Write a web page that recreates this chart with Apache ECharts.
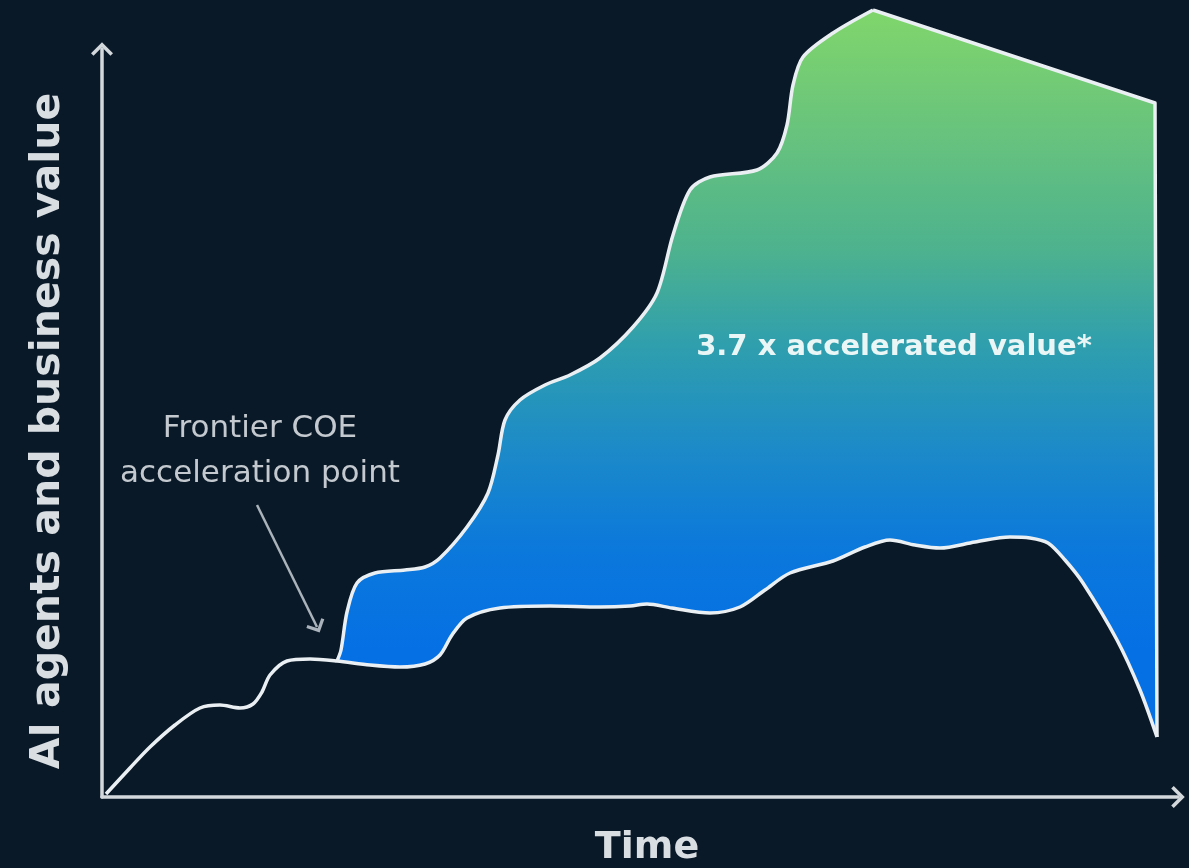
<!DOCTYPE html>
<html>
<head>
<meta charset="utf-8">
<script src="https://cdn.jsdelivr.net/npm/echarts@6/dist/echarts.min.js"></script>
<style>
html,body{margin:0;padding:0;background:#0a1927;}
#chart{width:1189px;height:868px;}
</style>
</head>
<body>
<div id="chart"></div>
<script>
// Values (time units, value units; origin at the axes' corner)
const baselineTime  = [4, 28, 48, 73, 98, 118, 138, 151, 160, 168, 185, 208, 235, 268, 298, 323, 338, 350, 365, 398, 448, 498, 528, 545, 570, 608, 638, 663, 688, 731, 763, 788, 813, 838, 873, 908, 928, 946, 963, 981, 1015, 1038, 1055];
const baselineValue = [3, 29, 50, 72, 89, 92, 89, 93, 105, 122, 136, 138, 136, 132, 130, 133, 142, 162, 179, 189, 191, 190, 191, 193, 189, 184, 190, 207, 224, 236, 250, 257, 252, 249, 255, 260, 259, 254, 237, 214, 157, 107, 60];
// accelerated curve: rising (curved) part up to the peak
const frontierTime  = [235, 239, 245, 255, 273, 303, 323, 338, 365, 386, 396, 403, 418, 443, 468, 498, 531, 555, 571, 588, 608, 655, 675, 685, 691, 701, 731, 771];
const frontierValue = [136, 147, 185, 214, 224, 227, 230, 239, 270, 304, 342, 377, 397, 412, 422, 439, 470, 504, 562, 607, 620, 627, 644, 672, 712, 740, 764, 787];
// accelerated curve: straight decline after the peak, then the closing drop
const frontierTailTime  = [771, 1053, 1055];
const frontierTailValue = [787, 694, 60];
const annotationFrom = [155, 292];
const annotationTo   = [215, 170];

const BG = '#0a1927';
const LINE = '#eaeff3';
const pair = (xs, ys) => xs.map((x, i) => [x, ys[i]]);
const chevron = 'path://M0,13 L13,0 L26,13 L23,16 L13,6 L3,16 Z';
const grad = () => new echarts.graphic.LinearGradient(0, 0, 0, 1, [
  {offset: 0, color: '#80d66b'},
  {offset: 0.114, color: '#6fc878'},
  {offset: 0.305, color: '#4db28e'},
  {offset: 0.432, color: '#2e9eaf'},
  {offset: 0.559, color: '#1c8ac8'},
  {offset: 0.686, color: '#0b78dc'},
  {offset: 0.813, color: '#0570e4'},
  {offset: 1, color: '#0570e4'}
]);
const axisLineStyle = {show: true, symbol: ['none', chevron], symbolSize: [22, 14], lineStyle: {color: '#d3d8dd', width: 3.5}};

const chart = echarts.init(document.getElementById('chart'));
chart.setOption({
  backgroundColor: BG,
  animation: false,
  grid: [
    {left: 102, right: 4, top: 10, bottom: 71},
    {left: 102, right: 11, top: 49, bottom: 71}
  ],
  xAxis: [
    {type: 'value', gridIndex: 0, min: 0, max: 1083, show: false},
    {type: 'value', gridIndex: 1, min: 0, max: 1, z: 5, axisLine: axisLineStyle,
     axisTick: {show: false}, axisLabel: {show: false}, splitLine: {show: false}}
  ],
  yAxis: [
    {type: 'value', gridIndex: 0, min: 0, max: 787, show: false},
    {type: 'value', gridIndex: 1, min: 0, max: 1, z: 5, axisLine: axisLineStyle,
     axisTick: {show: false}, axisLabel: {show: false}, splitLine: {show: false}}
  ],
  series: [
    {
      name: 'Frontier COE',
      type: 'line', xAxisIndex: 0, yAxisIndex: 0,
      data: pair(frontierTime, frontierValue),
      smooth: 0.3, showSymbol: false, z: 2,
      lineStyle: {color: LINE, width: 3.5},
      areaStyle: {opacity: 1, color: grad()}
    },
    {
      name: 'Frontier COE tail',
      type: 'line', xAxisIndex: 0, yAxisIndex: 0,
      data: pair(frontierTailTime, frontierTailValue),
      smooth: false, showSymbol: false, z: 2,
      lineStyle: {color: LINE, width: 3.5, join: 'round'},
      areaStyle: {opacity: 1, color: grad()}
    },
    {
      name: 'Baseline',
      type: 'line', xAxisIndex: 0, yAxisIndex: 0,
      data: pair(baselineTime, baselineValue),
      smooth: 0.3, showSymbol: false, z: 3,
      lineStyle: {color: LINE, width: 3.5},
      areaStyle: {color: BG, opacity: 1},
      markLine: {
        silent: true,
        symbol: ['none', chevron],
        symbolSize: [20, 12],
        label: {show: false},
        lineStyle: {color: '#aab3bb', width: 2.5, type: 'solid'},
        data: [[{coord: annotationFrom}, {coord: annotationTo}]]
      }
    }
  ],
  graphic: [
    {type: 'text', x: 48, y: 431, rotation: Math.PI / 2, z: 10,
     style: {text: 'AI agents and business value', fill: '#d9dee3', font: 'bold 41px "DejaVu Sans"', textAlign: 'center', textVerticalAlign: 'middle'}},
    {type: 'text', x: 647, y: 848, z: 10,
     style: {text: 'Time', fill: '#d9dee3', font: 'bold 38px "DejaVu Sans"', textAlign: 'center', textVerticalAlign: 'middle'}},
    {type: 'text', x: 260, y: 451, z: 10,
     style: {text: 'Frontier COE\nacceleration point', fill: '#c3c9cf', font: '31px "DejaVu Sans"', lineHeight: 45, textAlign: 'center', textVerticalAlign: 'middle'}},
    {type: 'text', x: 894, y: 347, z: 10,
     style: {text: '3.7 x accelerated value*', fill: '#eaf6f5', font: 'bold 29px "DejaVu Sans"', textAlign: 'center', textVerticalAlign: 'middle'}}
  ]
});
</script>
</body>
</html>
